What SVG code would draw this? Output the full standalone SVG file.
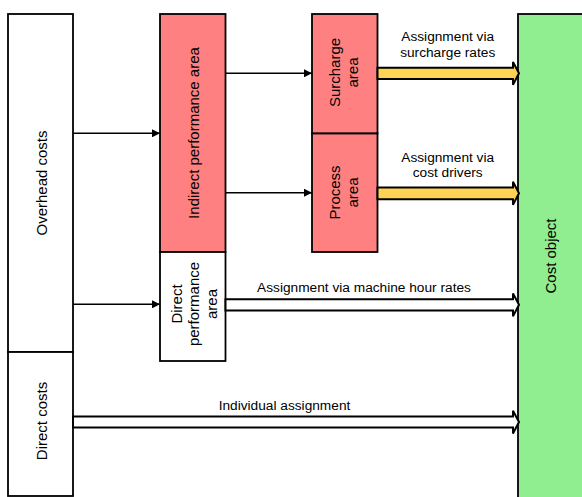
<svg xmlns="http://www.w3.org/2000/svg" width="582" height="497" viewBox="0 0 582 497">
<style>
.box{stroke:#000;stroke-width:1.8}
.w{fill:#fff}
.r{fill:#ff8080}
.g{fill:#90ee90}
.t{font-family:"Liberation Sans",Arial,sans-serif;font-size:15px;fill:#000;text-anchor:middle}
.l{font-family:"Liberation Sans",Arial,sans-serif;font-size:13.7px;fill:#000;text-anchor:middle}
.thin{stroke:#000;stroke-width:1.4;fill:none}
.blk{stroke:#000;stroke-width:2;stroke-linejoin:miter}
.y{fill:#ffd455}
</style>
<defs>
<marker id="ah" markerWidth="8" markerHeight="8" refX="8" refY="4" orient="auto" markerUnits="userSpaceOnUse">
<path d="M0,0 L8,4 L0,8 Z" fill="#000"/>
</marker>
</defs>
<rect width="582" height="497" fill="#fff"/>
<g id="overhead-costs">
<rect class="box w" x="8" y="14" width="65" height="338"/>
<text class="t" transform="translate(46.5,183) rotate(-90)">Overhead costs</text>
</g>
<g id="direct-costs">
<rect class="box w" x="8" y="352" width="65" height="144"/>
<text class="t" transform="translate(46.5,421) rotate(-90)">Direct costs</text>
</g>
<g id="indirect-performance-area">
<rect class="box r" x="160" y="14" width="65.5" height="238"/>
<text class="t" transform="translate(198.5,133) rotate(-90)">Indirect performance area</text>
</g>
<g id="direct-performance-area">
<rect class="box w" x="160" y="252" width="65.5" height="109"/>
<text class="t" transform="translate(182,304) rotate(-90)">Direct</text>
<text class="t" transform="translate(199,304) rotate(-90)">performance</text>
<text class="t" transform="translate(216.5,304) rotate(-90)">area</text>
</g>
<g id="surcharge-area">
<rect class="box r" x="312" y="14" width="65.5" height="119.5"/>
<text class="t" transform="translate(339.5,72.5) rotate(-90)">Surcharge</text>
<text class="t" transform="translate(357.5,72.5) rotate(-90)">area</text>
</g>
<g id="process-area">
<rect class="box r" x="312" y="133.5" width="65.5" height="118.5"/>
<text class="t" transform="translate(339.5,192.5) rotate(-90)">Process</text>
<text class="t" transform="translate(357.5,192.5) rotate(-90)">area</text>
</g>
<g id="cost-object">
<rect class="box g" x="518" y="14" width="70" height="490"/>
<text class="t" transform="translate(556,256) rotate(-90)">Cost object</text>
</g>
<g id="connectors">
<line class="thin" x1="73" y1="133.3" x2="160" y2="133.3" marker-end="url(#ah)"/>
<line class="thin" x1="73" y1="304.3" x2="160" y2="304.3" marker-end="url(#ah)"/>
<line class="thin" x1="225.5" y1="73.3" x2="312" y2="73.3" marker-end="url(#ah)"/>
<line class="thin" x1="225.5" y1="192.7" x2="312" y2="192.7" marker-end="url(#ah)"/>
<path class="blk y" d="M377.5,67.8 H513 V62 L519,73.3 L513,84.8 V79 H377.5 Z"/>
<path class="blk y" d="M377.5,187.5 H513 V181.8 L519,193.3 L513,204.8 V199.2 H377.5 Z"/>
<path class="blk w" d="M225.5,299.3 H513 V293.5 L519,304.8 L513,316.3 V310.5 H225.5 Z"/>
<path class="blk w" d="M73,416.5 H513 V410.7 L519,422 L513,433.5 V427.5 H73 Z"/>
<text class="l" x="447.7" y="40.8">Assignment via</text>
<text class="l" x="447.7" y="56.5">surcharge rates</text>
<text class="l" x="447.7" y="161.5">Assignment via</text>
<text class="l" x="447.7" y="176.7">cost drivers</text>
<text class="l" x="364" y="292">Assignment via machine hour rates</text>
<text class="l" x="284.5" y="409.5">Individual assignment</text>
</g>
</svg>
